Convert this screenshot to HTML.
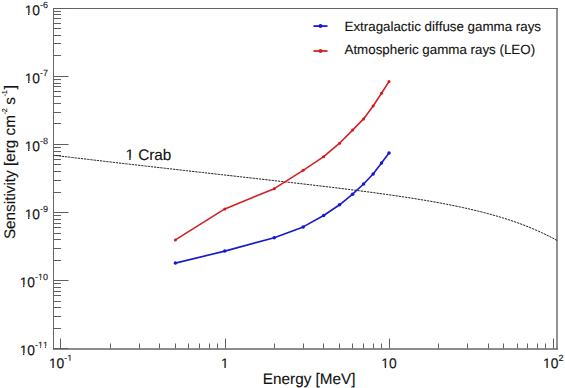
<!DOCTYPE html>
<html><head><meta charset="utf-8"><style>
html,body{margin:0;padding:0;background:#fff;width:565px;height:388px;overflow:hidden}
svg{display:block;font-family:"Liberation Sans",sans-serif;text-rendering:geometricPrecision;font-kerning:none}
text{stroke:#111;stroke-width:0.12px;fill:#111}
</style></head><body><svg width="565" height="388" viewBox="0 0 565 388" font-family="Liberation Sans, sans-serif" fill="#000"><path d="M53 8.5H557.8" stroke="#626262" stroke-width="1" fill="none"/><path d="M53.5 8V349.8" stroke="#686868" stroke-width="1" fill="none"/><path d="M557.0 8V349.8" stroke="#6a6a6a" stroke-width="1.45" fill="none"/><path d="M53 349.0H557.8" stroke="#666" stroke-width="1.5" fill="none"/><path d="M53.5 348.50h15 M53.5 328.50h7.5 M53.5 316.50h7.5 M53.5 307.50h7.5 M53.5 301.50h7.5 M53.5 295.50h7.5 M53.5 291.50h7.5 M53.5 287.50h7.5 M53.5 283.50h7.5 M53.5 280.50h15 M53.5 260.50h7.5 M53.5 248.50h7.5 M53.5 239.50h7.5 M53.5 233.50h7.5 M53.5 227.50h7.5 M53.5 223.50h7.5 M53.5 219.50h7.5 M53.5 215.50h7.5 M53.5 212.50h15 M53.5 192.50h7.5 M53.5 180.50h7.5 M53.5 171.50h7.5 M53.5 164.50h7.5 M53.5 159.50h7.5 M53.5 155.50h7.5 M53.5 151.50h7.5 M53.5 147.50h7.5 M53.5 144.50h15 M53.5 123.50h7.5 M53.5 112.50h7.5 M53.5 103.50h7.5 M53.5 96.50h7.5 M53.5 91.50h7.5 M53.5 86.50h7.5 M53.5 83.50h7.5 M53.5 79.50h7.5 M53.5 76.50h15 M53.5 55.50h7.5 M53.5 43.50h7.5 M53.5 35.50h7.5 M53.5 28.50h7.5 M53.5 23.50h7.5 M53.5 18.50h7.5 M53.5 14.50h7.5 M53.5 11.50h7.5 M53.5 8.50h15 M60.50 348.5v-10 M110.50 348.5v-5 M139.50 348.5v-5 M159.50 348.5v-5 M175.50 348.5v-5 M188.50 348.5v-5 M199.50 348.5v-5 M209.50 348.5v-5 M217.50 348.5v-5 M225.50 348.5v-10 M274.50 348.5v-5 M303.50 348.5v-5 M323.50 348.5v-5 M339.50 348.5v-5 M352.50 348.5v-5 M363.50 348.5v-5 M373.50 348.5v-5 M381.50 348.5v-5 M389.50 348.5v-10 M438.50 348.5v-5 M467.50 348.5v-5 M488.50 348.5v-5 M503.50 348.5v-5 M517.50 348.5v-5 M527.50 348.5v-5 M537.50 348.5v-5 M545.50 348.5v-5 M553.50 348.5v-10" stroke="#606060" stroke-width="1" fill="none"/><path d="M53.50 155.27 L56.67 155.65 L59.84 156.03 L63.01 156.41 L66.18 156.78 L69.35 157.16 L72.52 157.53 L75.69 157.91 L78.86 158.28 L82.03 158.66 L85.20 159.03 L88.37 159.40 L91.54 159.78 L94.71 160.15 L97.88 160.52 L101.05 160.89 L104.22 161.26 L107.39 161.63 L110.56 162.00 L113.73 162.37 L116.90 162.74 L120.07 163.10 L123.24 163.47 L126.41 163.84 L129.58 164.20 L132.75 164.57 L135.92 164.93 L139.08 165.30 L142.25 165.66 L145.42 166.03 L148.59 166.39 L151.76 166.75 L154.93 167.12 L158.10 167.48 L161.27 167.84 L164.44 168.20 L167.61 168.56 L170.78 168.92 L173.95 169.28 L177.12 169.64 L180.29 170.00 L183.46 170.36 L186.63 170.72 L189.80 171.08 L192.97 171.44 L196.14 171.80 L199.31 172.16 L202.48 172.51 L205.65 172.87 L208.82 173.23 L211.99 173.59 L215.16 173.94 L218.33 174.30 L221.50 174.66 L224.67 175.02 L227.84 175.37 L231.01 175.73 L234.18 176.09 L237.35 176.44 L240.52 176.80 L243.69 177.16 L246.86 177.52 L250.03 177.87 L253.20 178.23 L256.37 178.59 L259.54 178.95 L262.71 179.31 L265.88 179.67 L269.05 180.03 L272.22 180.39 L275.39 180.75 L278.56 181.11 L281.73 181.47 L284.90 181.84 L288.07 182.20 L291.24 182.57 L294.41 182.93 L297.58 183.30 L300.75 183.67 L303.92 184.04 L307.08 184.41 L310.25 184.78 L313.42 185.15 L316.59 185.52 L319.76 185.90 L322.93 186.28 L326.10 186.66 L329.27 187.04 L332.44 187.42 L335.61 187.81 L338.78 188.20 L341.95 188.59 L345.12 188.98 L348.29 189.38 L351.46 189.78 L354.63 190.18 L357.80 190.58 L360.97 190.99 L364.14 191.40 L367.31 191.82 L370.48 192.24 L373.65 192.66 L376.82 193.09 L379.99 193.53 L383.16 193.96 L386.33 194.41 L389.50 194.85 L392.67 195.31 L395.84 195.77 L399.01 196.23 L402.18 196.71 L405.35 197.19 L408.52 197.67 L411.69 198.17 L414.86 198.67 L418.03 199.18 L421.20 199.70 L424.37 200.23 L427.54 200.76 L430.71 201.31 L433.88 201.87 L437.05 202.44 L440.22 203.02 L443.39 203.62 L446.56 204.22 L449.73 204.84 L452.90 205.47 L456.07 206.12 L459.24 206.78 L462.41 207.46 L465.58 208.16 L468.75 208.87 L471.92 209.61 L475.08 210.36 L478.25 211.13 L481.42 211.92 L484.59 212.74 L487.76 213.57 L490.93 214.44 L494.10 215.32 L497.27 216.24 L500.44 217.18 L503.61 218.15 L506.78 219.15 L509.95 220.19 L513.12 221.25 L516.29 222.36 L519.46 223.49 L522.63 224.67 L525.80 225.89 L528.97 227.14 L532.14 228.45 L535.31 229.79 L538.48 231.19 L541.65 232.63 L544.82 234.13 L547.99 235.68 L551.16 237.29 L554.33 238.96 L557.50 240.70" stroke="#1a1a1a" stroke-width="1.0" fill="none" stroke-dasharray="2.3 0.9" stroke-dashoffset="1.25"/><path d="M175.38 263.10 L224.81 251.10 L274.24 237.70 L303.16 226.90 L323.67 215.50 L339.59 204.80 L352.59 194.20 L363.58 184.00 L373.11 174.00 L381.51 163.10 L389.02 153.10" stroke="#1a1acc" stroke-width="1.65" fill="none" stroke-linejoin="round"/><circle cx="175.38" cy="263.10" r="1.75" fill="#1616d8"/><circle cx="224.81" cy="251.10" r="1.75" fill="#1616d8"/><circle cx="274.24" cy="237.70" r="1.75" fill="#1616d8"/><circle cx="303.16" cy="226.90" r="1.75" fill="#1616d8"/><circle cx="323.67" cy="215.50" r="1.75" fill="#1616d8"/><circle cx="339.59" cy="204.80" r="1.75" fill="#1616d8"/><circle cx="352.59" cy="194.20" r="1.75" fill="#1616d8"/><circle cx="363.58" cy="184.00" r="1.75" fill="#1616d8"/><circle cx="373.11" cy="174.00" r="1.75" fill="#1616d8"/><circle cx="381.51" cy="163.10" r="1.75" fill="#1616d8"/><circle cx="389.02" cy="153.10" r="1.75" fill="#1616d8"/><path d="M175.38 239.90 L224.81 208.90 L274.24 188.70 L303.16 170.30 L323.67 156.70 L339.59 143.20 L352.59 130.10 L363.58 118.90 L373.11 106.00 L381.51 93.20 L389.02 81.60" stroke="#d02222" stroke-width="1.6" fill="none" stroke-linejoin="round"/><circle cx="175.38" cy="239.90" r="1.5" fill="#d81818"/><circle cx="224.81" cy="208.90" r="1.5" fill="#d81818"/><circle cx="274.24" cy="188.70" r="1.5" fill="#d81818"/><circle cx="303.16" cy="170.30" r="1.5" fill="#d81818"/><circle cx="323.67" cy="156.70" r="1.5" fill="#d81818"/><circle cx="339.59" cy="143.20" r="1.5" fill="#d81818"/><circle cx="352.59" cy="130.10" r="1.5" fill="#d81818"/><circle cx="363.58" cy="118.90" r="1.5" fill="#d81818"/><circle cx="373.11" cy="106.00" r="1.5" fill="#d81818"/><circle cx="381.51" cy="93.20" r="1.5" fill="#d81818"/><circle cx="389.02" cy="81.60" r="1.5" fill="#d81818"/><path d="M313.5 26.1h14" stroke="#1a1acc" stroke-width="1.8"/><circle cx="320.5" cy="26.1" r="2" fill="#1a1acc"/><path d="M313.5 51h14" stroke="#d02222" stroke-width="1.8"/><circle cx="320.5" cy="51" r="2" fill="#d02222"/><text x="344.5" y="30.6" font-size="13.35">Extragalactic diffuse gamma rays</text><text x="344.5" y="54.4" font-size="13.35">Atmospheric gamma rays (LEO)</text><text x="125.4" y="159.8" font-size="15.3">1 Crab</text><text x="48.92" y="368.20" font-size="13.8">10</text><text x="64.27" y="361.00" font-size="9.0">-1</text><text x="220.97" y="368.20" font-size="13.8">1</text><text x="381.35" y="368.20" font-size="13.8">10</text><text x="543.05" y="368.20" font-size="13.8">10</text><text x="558.40" y="361.00" font-size="9.0">2</text><text x="19.64" y="354.80" font-size="13.8">10</text><text x="34.99" y="347.60" font-size="9.0">-11</text><text x="19.64" y="286.80" font-size="13.8">10</text><text x="34.99" y="279.60" font-size="9.0">-10</text><text x="24.65" y="218.80" font-size="13.8">10</text><text x="40.00" y="211.60" font-size="9.0">-9</text><text x="24.65" y="150.80" font-size="13.8">10</text><text x="40.00" y="143.60" font-size="9.0">-8</text><text x="24.65" y="82.80" font-size="13.8">10</text><text x="40.00" y="75.60" font-size="9.0">-7</text><text x="24.65" y="14.80" font-size="13.8">10</text><text x="40.00" y="7.60" font-size="9.0">-6</text><text x="355.5" y="384" font-size="15.3" text-anchor="end">Energy [MeV]</text><text transform="translate(15.0 239.1) rotate(-90)" font-size="15.3">Sensitivity [erg cm</text><text transform="translate(7.1 114.6) rotate(-90)" font-size="7.2">-2</text><text transform="translate(15.0 104.8) rotate(-90)" font-size="15.3">s</text><text transform="translate(7.1 96.6) rotate(-90)" font-size="7.2">-1</text><text transform="translate(15.0 89.2) rotate(-90)" font-size="15.3">]</text><g fill="#fff"><rect x="126.00" y="158" width="3.25" height="2"/><rect x="130.60" y="158" width="3.40" height="2"/><rect x="49.00" y="367" width="3.39" height="2"/><rect x="53.61" y="367" width="3.39" height="2"/><rect x="67.00" y="360" width="2.53" height="2"/><rect x="70.33" y="360" width="2.67" height="2"/><rect x="221.00" y="367" width="3.44" height="2"/><rect x="225.66" y="367" width="3.34" height="2"/><rect x="382.00" y="367" width="2.82" height="2"/><rect x="386.03" y="367" width="2.97" height="2"/><rect x="543.00" y="367" width="3.52" height="2"/><rect x="547.74" y="367" width="3.26" height="2"/><rect x="20.00" y="353" width="3.11" height="2"/><rect x="24.33" y="353" width="2.67" height="2"/><rect x="38.00" y="346" width="2.25" height="2"/><rect x="41.05" y="346" width="1.95" height="2"/><rect x="43.00" y="346" width="2.26" height="2"/><rect x="46.05" y="346" width="1.95" height="2"/><rect x="20.00" y="285" width="3.11" height="2"/><rect x="24.33" y="285" width="2.67" height="2"/><rect x="38.00" y="278" width="2.25" height="2"/><rect x="41.05" y="278" width="1.95" height="2"/><rect x="25.00" y="217" width="3.12" height="2"/><rect x="29.34" y="217" width="2.66" height="2"/><rect x="25.00" y="149" width="3.12" height="2"/><rect x="29.34" y="149" width="2.66" height="2"/><rect x="25.00" y="81" width="3.12" height="2"/><rect x="29.34" y="81" width="2.66" height="2"/><rect x="25.00" y="13" width="3.12" height="2"/><rect x="29.34" y="13" width="2.66" height="2"/></g></svg></body></html>
